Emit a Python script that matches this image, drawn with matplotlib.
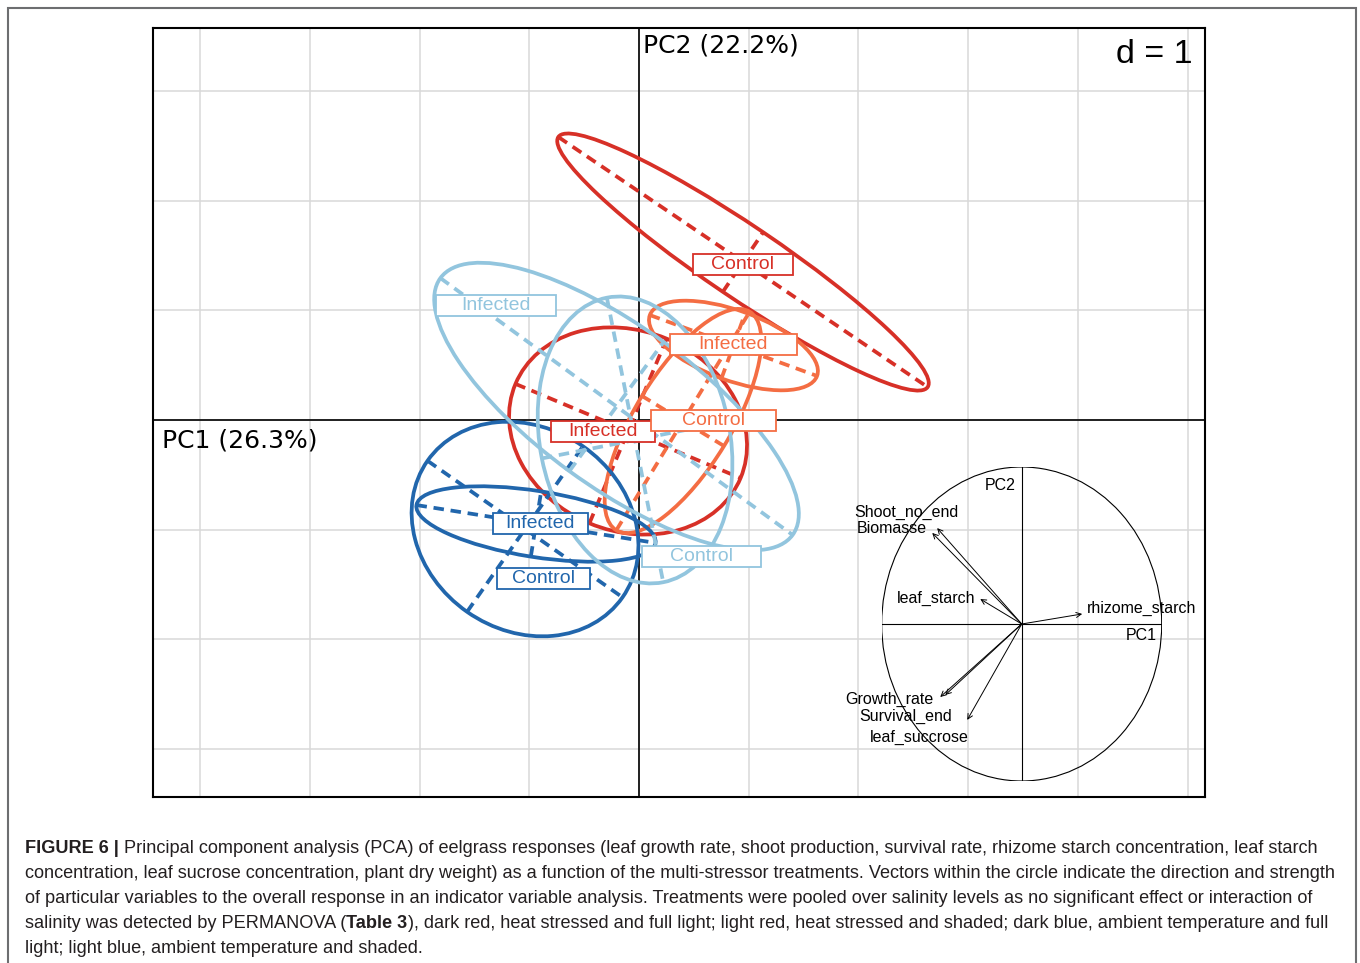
import matplotlib
matplotlib.use("Agg")
import numpy as np
import matplotlib.pyplot as plt
from matplotlib.patches import Ellipse, Rectangle

W, H = 1360, 963

# PCA group ellipses (scores in PC units): heat/full light, heat/shade, ambient/full light, ambient/shade
groups = ['Control', 'Infected', 'Control', 'Infected', 'Control', 'Infected', 'Control', 'Infected']
treatment = ['heat_full', 'heat_full', 'heat_shade', 'heat_shade',
             'amb_full', 'amb_full', 'amb_shade', 'amb_shade']
cx = [0.948, -0.100, 0.401, 0.861, -1.039, -0.939, -0.036, -0.205]
cy = [1.440, -0.100, -0.009, 0.679, -0.994, -0.948, -0.182, 0.123]
semi_major = [2.033, 1.112, 1.167, 0.811, 1.085, 1.103, 1.322, 1.987]
semi_minor = [0.328, 0.912, 0.438, 0.319, 0.921, 0.301, 0.866, 0.729]
angle = [-34.1, -22.7, 58.6, -20.0, -35.0, -9.0, -78.8, -36.1]
lab_x = [0.948, -0.330, 0.675, 0.857, -0.875, -0.902, 0.574, -1.304]
lab_y = [1.418, -0.109, -0.009, 0.684, -1.449, -0.948, -1.240, 1.048]

# correlation circle
variables = ['Shoot_no_end', 'Biomasse', 'leaf_starch', 'rhizome_starch',
             'Growth_rate', 'Survival_end', 'leaf_succrose']
load_pc1 = [-0.604, -0.639, -0.296, 0.432, -0.582, -0.546, -0.389]
load_pc2 = [0.611, 0.580, 0.159, 0.064, -0.465, -0.452, -0.611]
var_lab_x = [-0.825, -0.925, -0.611, 0.854, -0.946, -0.832, -0.732]
var_lab_y = [0.713, 0.611, 0.166, 0.102, -0.478, -0.586, -0.720]

colors = {'heat_full': '#d73027', 'heat_shade': '#f46d43',
          'amb_full': '#2166ac', 'amb_shade': '#92c5de'}
box_w = {'heat_full': [100, 104], 'heat_shade': [125, 127],
         'amb_full': [93, 95], 'amb_shade': [119, 120]}

PX = 109.7  # pixels per unit (d = 1)

fig = plt.figure(figsize=(W / 100, H / 100), dpi=100)

# outer frame
fig.add_artist(Rectangle((8 / W, -0.05), (1356 - 8) / W, 1 - 8 / H + 0.05,
                         transform=fig.transFigure, fill=False,
                         ec='#6d6e70', lw=1.5))

ax = fig.add_axes([153 / W, 1 - 797 / H, 1052 / W, 769 / H])
ax.set_xlim((153 - 639) / PX, (1205 - 639) / PX)
ax.set_ylim((420 - 797) / PX, (420 - 28) / PX)
ax.set_xticks([])
ax.set_yticks([])
for s in ax.spines.values():
    s.set_linewidth(1.5)
    s.set_color('black')
    s.set_zorder(20)

for gx in range(-4, 6):
    ax.axvline(gx, color='#d9d9d9', lw=1.1, zorder=0)
for gy in range(-3, 4):
    ax.axhline(gy, color='#d9d9d9', lw=1.1, zorder=0)
ax.axvline(0, color='black', lw=1.2, zorder=1)
ax.axhline(0, color='black', lw=1.2, zorder=1)

ax.text((162 - 639) / PX, (420 - 447) / PX, 'PC1 (26.3%)', fontsize=18,
        family='DejaVu Sans', ha='left', va='baseline', zorder=2)
ax.text((643 - 639) / PX, (420 - 52) / PX, 'PC2 (22.2%)', fontsize=18,
        family='DejaVu Sans', ha='left', va='baseline', zorder=2)
ax.text((1193 - 639) / PX, (420 - 63) / PX, 'd = 1', fontsize=24.5,
        family='Liberation Sans', ha='right', va='baseline', zorder=2)

# ellipses with dashed axes
for i in range(len(groups)):
    col = colors[treatment[i]]
    a, b = semi_major[i], semi_minor[i]
    t = np.deg2rad(angle[i])
    ax.add_patch(Ellipse((cx[i], cy[i]), 2 * a, 2 * b, angle=angle[i],
                         fill=False, ec=col, lw=2.7, zorder=3 + i))
    ux, uy = np.cos(t), np.sin(t)
    vx, vy = -np.sin(t), np.cos(t)
    ax.plot([cx[i] - a * ux, cx[i] + a * ux], [cy[i] - a * uy, cy[i] + a * uy],
            color=col, lw=2.7, dashes=(2.8, 1.8), zorder=3 + i)
    ax.plot([cx[i] - b * vx, cx[i] + b * vx], [cy[i] - b * vy, cy[i] + b * vy],
            color=col, lw=2.7, dashes=(2.8, 1.8), zorder=3 + i)

# group labels
for i in range(len(groups)):
    col = colors[treatment[i]]
    bw = box_w[treatment[i]][i % 2] / PX
    bh = 21 / PX
    ax.add_patch(Rectangle((lab_x[i] - bw / 2, lab_y[i] - bh / 2), bw, bh,
                           fc='white', ec=col, lw=1.3, zorder=12 + i))
    ax.text(lab_x[i], lab_y[i], groups[i], color=col, fontsize=14,
            family='Liberation Sans', ha='center', va='center', zorder=12.5 + i)

# correlation circle inset
ins = fig.add_axes([881.7 / W, 1 - 781 / H, 280 / W, 314 / H])
ins.set_xlim(-1, 1)
ins.set_ylim(-1, 1)
ins.axis('off')
ins.add_patch(Ellipse((0, 0), 2, 2, fill=False, ec='black', lw=0.8))
ins.plot([-1, 1], [0, 0], color='black', lw=0.8)
ins.plot([0, 0], [-1, 1], color='black', lw=0.8)
ins.text(-0.04, 0.885, 'PC2', ha='right', va='center', fontsize=11.5,
         family='Liberation Sans')
ins.text(0.968, -0.075, 'PC1', ha='right', va='center', fontsize=11.5,
         family='Liberation Sans')
for name, lx, ly, tx, ty in zip(variables, load_pc1, load_pc2, var_lab_x, var_lab_y):
    ins.annotate('', xy=(lx, ly), xytext=(0, 0),
                 arrowprops=dict(arrowstyle='->', lw=0.7, color='black',
                                 shrinkA=0, shrinkB=0, mutation_scale=9))
    ins.text(tx, ty, name, ha='center', va='center', fontsize=11.5,
             family='Liberation Sans', clip_on=False)

# caption
caption = [
    [('FIGURE 6 |', True), (' Principal component analysis (PCA) of eelgrass responses (leaf growth rate, shoot production, survival rate, rhizome starch concentration, leaf starch', False)],
    [('concentration, leaf sucrose concentration, plant dry weight) as a function of the multi-stressor treatments. Vectors within the circle indicate the direction and strength', False)],
    [('of particular variables to the overall response in an indicator variable analysis. Treatments were pooled over salinity levels as no significant effect or interaction of', False)],
    [('salinity was detected by PERMANOVA (', False), ('Table 3', True), ('), dark red, heat stressed and full light; light red, heat stressed and shaded; dark blue, ambient temperature and full', False)],
    [('light; light blue, ambient temperature and shaded.', False)],
]
baselines = [853, 878, 903, 928, 953]

renderer = fig.canvas.get_renderer()


def text_w(s, size, bold=False):
    t = fig.text(0, 0, s, fontsize=size, family='Liberation Sans',
                 fontweight='bold' if bold else 'normal')
    w = t.get_window_extent(renderer).width
    t.remove()
    return w


# size so the longest line spans the caption width
ref = text_w(caption[1][0][0], 12)
cap_size = 12 * (1338 - 25) / ref
space = text_w('a a', cap_size) - text_w('aa', cap_size)

for line, yb in zip(caption, baselines):
    x = 25
    for txt, bold in line:
        if txt.startswith(' '):
            x += space
            txt = txt.lstrip(' ')
        t = fig.text(x / W, 1 - yb / H, txt, fontsize=cap_size,
                     family='Liberation Sans', color='#231f20',
                     fontweight='bold' if bold else 'normal',
                     ha='left', va='baseline')
        x += t.get_window_extent(renderer).width

fig.savefig('out.png', dpi=100)
